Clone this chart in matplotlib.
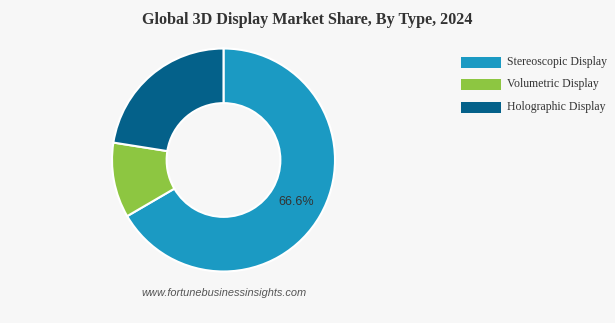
import matplotlib.pyplot as plt
import numpy as np

# market share by display type, 2024 (%)
types = ['Stereoscopic Display', 'Volumetric Display', 'Holographic Display']
shares = [66.6, 10.9, 22.5]
colors = ['#1b9ac3', '#8dc641', '#04618a']

W, H = 615, 323
fig = plt.figure(figsize=(W / 100, H / 100), dpi=100)
fig.patch.set_facecolor('#f7f7f7')

# donut centre ~ (223.5, 160) px, outer radius ~111.5 px
cx, cy, r = 223.5, 160, 111.5
ax = fig.add_axes([(cx - r) / W, (H - cy - r) / H, 2 * r / W, 2 * r / H])
ax.set_facecolor('none')

wedges, _ = ax.pie(shares, colors=colors, startangle=90, counterclock=False,
                   radius=1, wedgeprops=dict(width=0.49, edgecolor='white', linewidth=1.5))
ax.set_xlim(-1, 1)
ax.set_ylim(-1, 1)
ax.set_aspect('equal')
ax.axis('off')

# label on the biggest slice only
w = wedges[0]
mid = np.deg2rad((w.theta1 + w.theta2) / 2)
rr = 1 - 0.49 / 2
ax.text(rr * np.cos(mid), rr * np.sin(mid), f'{shares[0]}%', ha='center', va='center',
        fontsize=9, color='#333333', family='Liberation Sans')

fig.text(0.5, 1 - 20 / H, 'Global 3D Display Market Share, By Type, 2024', ha='center', va='center',
         fontsize=11.6, fontweight='bold', color='#333333', family='Liberation Serif')

# legend
for i, (t, c) in enumerate(zip(types, colors)):
    y = 62 + i * 22.5
    fig.patches.append(plt.Rectangle((461 / W, 1 - (y + 5.5) / H), 40 / W, 11 / H,
                                     transform=fig.transFigure, facecolor=c, edgecolor='none'))
    fig.text(507 / W, 1 - y / H, t, ha='left', va='center', fontsize=8.5,
             color='#333333', family='Liberation Serif')

fig.text(224 / W, 1 - 293 / H, 'www.fortunebusinessinsights.com', ha='center', va='center',
         fontsize=7.9, style='italic', color='#555555', family='Liberation Sans')

fig.savefig('out.png', dpi=100, facecolor=fig.get_facecolor())
